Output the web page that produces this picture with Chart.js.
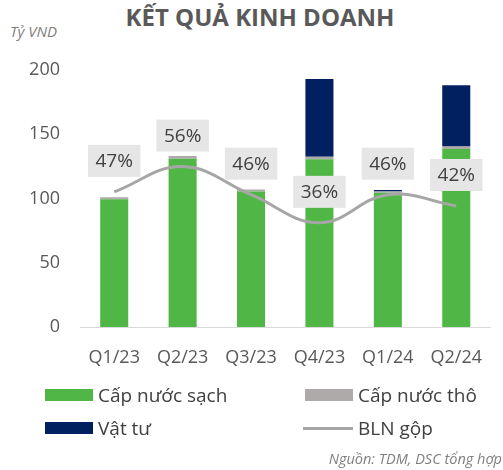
<!DOCTYPE html>
<html>
<head>
<meta charset="utf-8">
<script src="https://cdn.jsdelivr.net/npm/chart.js@4.4.1/dist/chart.umd.min.js"></script>
<style>
  html, body { margin: 0; padding: 0; background: #fff; }
  body { width: 503px; height: 470px; position: relative; overflow: hidden; font-family: "Open Sans", sans-serif; }
  #wrap { position: absolute; left: 0; top: 0; width: 503px; height: 470px; }
  .title { position: absolute; left: 0; width: 520px; top: 0px; text-align: center; font-size: 24px; font-weight: 700; color: #595959; }
  .unit { position: absolute; left: 10px; top: 21px; font-size: 15px; font-style: italic; color: #7f7f7f; }
  .src { position: absolute; right: 1px; top: 449px; font-size: 14.5px; font-style: italic; color: #7f7f7f; }
  .leg { position: absolute; display: flex; align-items: center; font-size: 19px; color: #404040; white-space: nowrap; }
  .leg .sw { width: 48px; height: 12px; margin-right: 5px; }
  .leg .ln { width: 50px; height: 3px; margin-right: 5px; }
</style>
</head>
<body>
<div class="title">KẾT QUẢ KINH DOANH</div>
<div class="unit">Tỷ VND</div>
<div id="wrap"><canvas id="c"></canvas></div>
<div id="legend"></div>
<div class="src">Nguồn: TDM, DSC tổng hợp</div>
<script>
const QUARTERS   = ["Q1/23", "Q2/23", "Q3/23", "Q4/23", "Q1/24", "Q2/24"];
const NUOC_SACH  = [99.5, 131, 105.5, 130.5, 104.4, 138.5];   // Cấp nước sạch
const NUOC_THO   = [1.5, 2, 1.5, 2, 1, 2];                     // Cấp nước thô
const VAT_TU     = [0, 0, 0, 60.5, 1.2, 47.7];                 // Vật tư
const BLN_GOP    = [47, 56, 46, 36, 46, 42];                   // BLN gộp (%)

const GREEN = "#50b747", GREY = "#aeaaaa", NAVY = "#002060", LINE = "#a6a6a6";

// boxes with the margin label above each point of the line
const boxLabels = {
  id: "boxLabels",
  afterDatasetsDraw(chart) {
    const ctx = chart.ctx;
    chart.data.datasets.forEach((ds, i) => {
      if (ds.type !== "line") return;
      const meta = chart.getDatasetMeta(i);
      ctx.save();
      ctx.font = '19px "Open Sans"';
      ctx.textAlign = "center";
      ctx.textBaseline = "middle";
      meta.data.forEach((pt, j) => {
        const txt = ds.data[j] + "%";
        const w = ctx.measureText(txt).width + 15, h = 32;
        const cy = pt.y - 31;
        ctx.fillStyle = "#e7e6e6";
        ctx.fillRect(pt.x - w / 2, cy - h / 2, w, h);
        ctx.fillStyle = "#404040";
        ctx.fillText(txt, pt.x, cy + 1);
      });
      ctx.restore();
    });
  }
};

const datasets = [
  { type: "line", label: "BLN gộp", data: BLN_GOP, yAxisID: "y1", borderColor: LINE, borderWidth: 3,
    tension: 0.4, pointRadius: 0, fill: false, order: 0 },
  { type: "bar", label: "Cấp nước sạch", data: NUOC_SACH, backgroundColor: GREEN, order: 1, stack: "s" },
  { type: "bar", label: "Cấp nước thô", data: NUOC_THO, backgroundColor: GREY, order: 1, stack: "s" },
  { type: "bar", label: "Vật tư", data: VAT_TU, backgroundColor: NAVY, order: 1, stack: "s" },
];

new Chart(document.getElementById("c"), {
  data: { labels: QUARTERS, datasets },
  options: {
    responsive: true, maintainAspectRatio: false, animation: false,
    layout: { padding: { top: 70, left: 0, right: 12, bottom: 103 } },
    datasets: { bar: { categoryPercentage: 1, barPercentage: 0.41 } },
    plugins: { legend: { display: false }, tooltip: { enabled: false }, title: { display: false } },
    scales: {
      x: {
        stacked: true,
        grid: { display: false, drawTicks: false },
        border: { display: true, color: "#d9d9d9", width: 1 },
        ticks: { color: "#595959", font: { family: "Open Sans", size: 18 }, padding: 20 },
        afterFit: (a) => { a.height = 40; },
      },
      y: {
        stacked: true, min: 0, max: 200,
        grid: { display: false, drawTicks: false },
        border: { display: false },
        ticks: { stepSize: 50, color: "#595959", font: { family: "Open Sans", size: 18 }, padding: 20 },
        afterFit: (a) => { a.width = 80; },
      },
      y1: { display: false, min: -1, max: 90.3 },
    },
  },
  plugins: [boxLabels],
});

// legend laid out in two columns under the chart
const legendItems = [
  { label: "Cấp nước sạch", color: GREEN, x: 45, y: 395 },
  { label: "Cấp nước thô", color: GREY, x: 305, y: 395 },
  { label: "Vật tư", color: NAVY, x: 45, y: 428 },
  { label: "BLN gộp", color: LINE, x: 303, y: 428, line: true },
];
const legend = document.getElementById("legend");
legendItems.forEach(it => {
  const d = document.createElement("div");
  d.className = "leg";
  d.style.left = it.x + "px";
  d.style.top = (it.y - 13) + "px";
  d.style.height = "26px";
  d.innerHTML = `<span class="${it.line ? "ln" : "sw"}" style="background:${it.color}"></span><span>${it.label}</span>`;
  legend.appendChild(d);
});
</script>
</body>
</html>
